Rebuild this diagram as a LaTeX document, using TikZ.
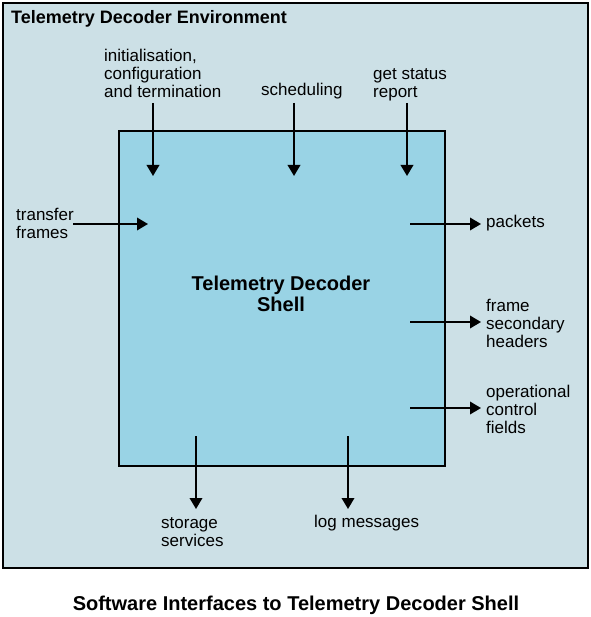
\documentclass[tikz,border=0pt]{standalone}
\usepackage{fontspec}
\setmainfont{Liberation Sans}
\usetikzlibrary{arrows.meta}
\definecolor{envfill}{RGB}{204,224,230}
\definecolor{shellfill}{RGB}{153,211,229}
\begin{document}
\begin{tikzpicture}[x=1pt,y=-1pt,
  lbl/.style={font=\fontsize{17}{18}\selectfont, align=left, inner sep=0pt, anchor=west},
  flow/.style={line width=2pt, -{Triangle[length=11pt,width=12.5pt]}}]
\useasboundingbox (0,0) rectangle (590,617);
\fill[white] (0,0) rectangle (590,617);
\node[draw, line width=2pt, fill=envfill, minimum width=585pt, minimum height=565pt, inner sep=0pt, anchor=north west] (env) at (2,2) {};
\node[draw, line width=2pt, fill=shellfill, minimum width=326pt, minimum height=335pt, inner sep=0pt, anchor=north west] (shell) at (118,130) {};
\node[lbl, font=\bfseries\fontsize{18}{20}\selectfont] (title) at (11,19) {Telemetry Decoder Environment};
\node[align=center, inner sep=0pt, font=\bfseries\fontsize{20}{20.5}\selectfont] (shellname) at (281,294) {Telemetry Decoder\\Shell};
\node[inner sep=0pt, font=\bfseries\fontsize{20}{22}\selectfont] (caption) at (296,605) {Software Interfaces to Telemetry Decoder Shell};
% labels
\node[lbl] (init) at (104,73) {initialisation,\\configuration\\and termination};
\node[lbl] (sched) at (261,91) {scheduling};
\node[lbl] (status) at (373,85) {get status\\report};
\node[lbl] (tf) at (16,223) {transfer\\frames};
\node[lbl] (pk) at (486,223) {packets};
\node[lbl] (fsh) at (486,323) {frame\\secondary\\headers};
\node[lbl] (ocf) at (486,409) {operational\\control\\fields};
\node[lbl] (ss) at (161,532) {storage\\services};
\node[lbl] (lm) at (314,523) {log messages};
% coordinates
\coordinate (a1s) at (153,103); \coordinate (a1e) at (153,176);
\coordinate (a2s) at (294,103); \coordinate (a2e) at (294,176);
\coordinate (a3s) at (407,103); \coordinate (a3e) at (407,176);
\coordinate (tfs) at (73,224); \coordinate (tfe) at (148,224);
\coordinate (pks) at (410,224); \coordinate (pke) at (481,224);
\coordinate (fss) at (410,322); \coordinate (fse) at (481,322);
\coordinate (ocs) at (410,408); \coordinate (oce) at (481,408);
\coordinate (sss) at (196,436); \coordinate (sse) at (196,509);
\coordinate (lms) at (348,436); \coordinate (lme) at (348,509);
\draw[flow] (a1s) -- (a1e);
\draw[flow] (a2s) -- (a2e);
\draw[flow] (a3s) -- (a3e);
\draw[flow] (tfs) -- (tfe);
\draw[flow] (pks) -- (pke);
\draw[flow] (fss) -- (fse);
\draw[flow] (ocs) -- (oce);
\draw[flow] (sss) -- (sse);
\draw[flow] (lms) -- (lme);
\end{tikzpicture}
\end{document}
